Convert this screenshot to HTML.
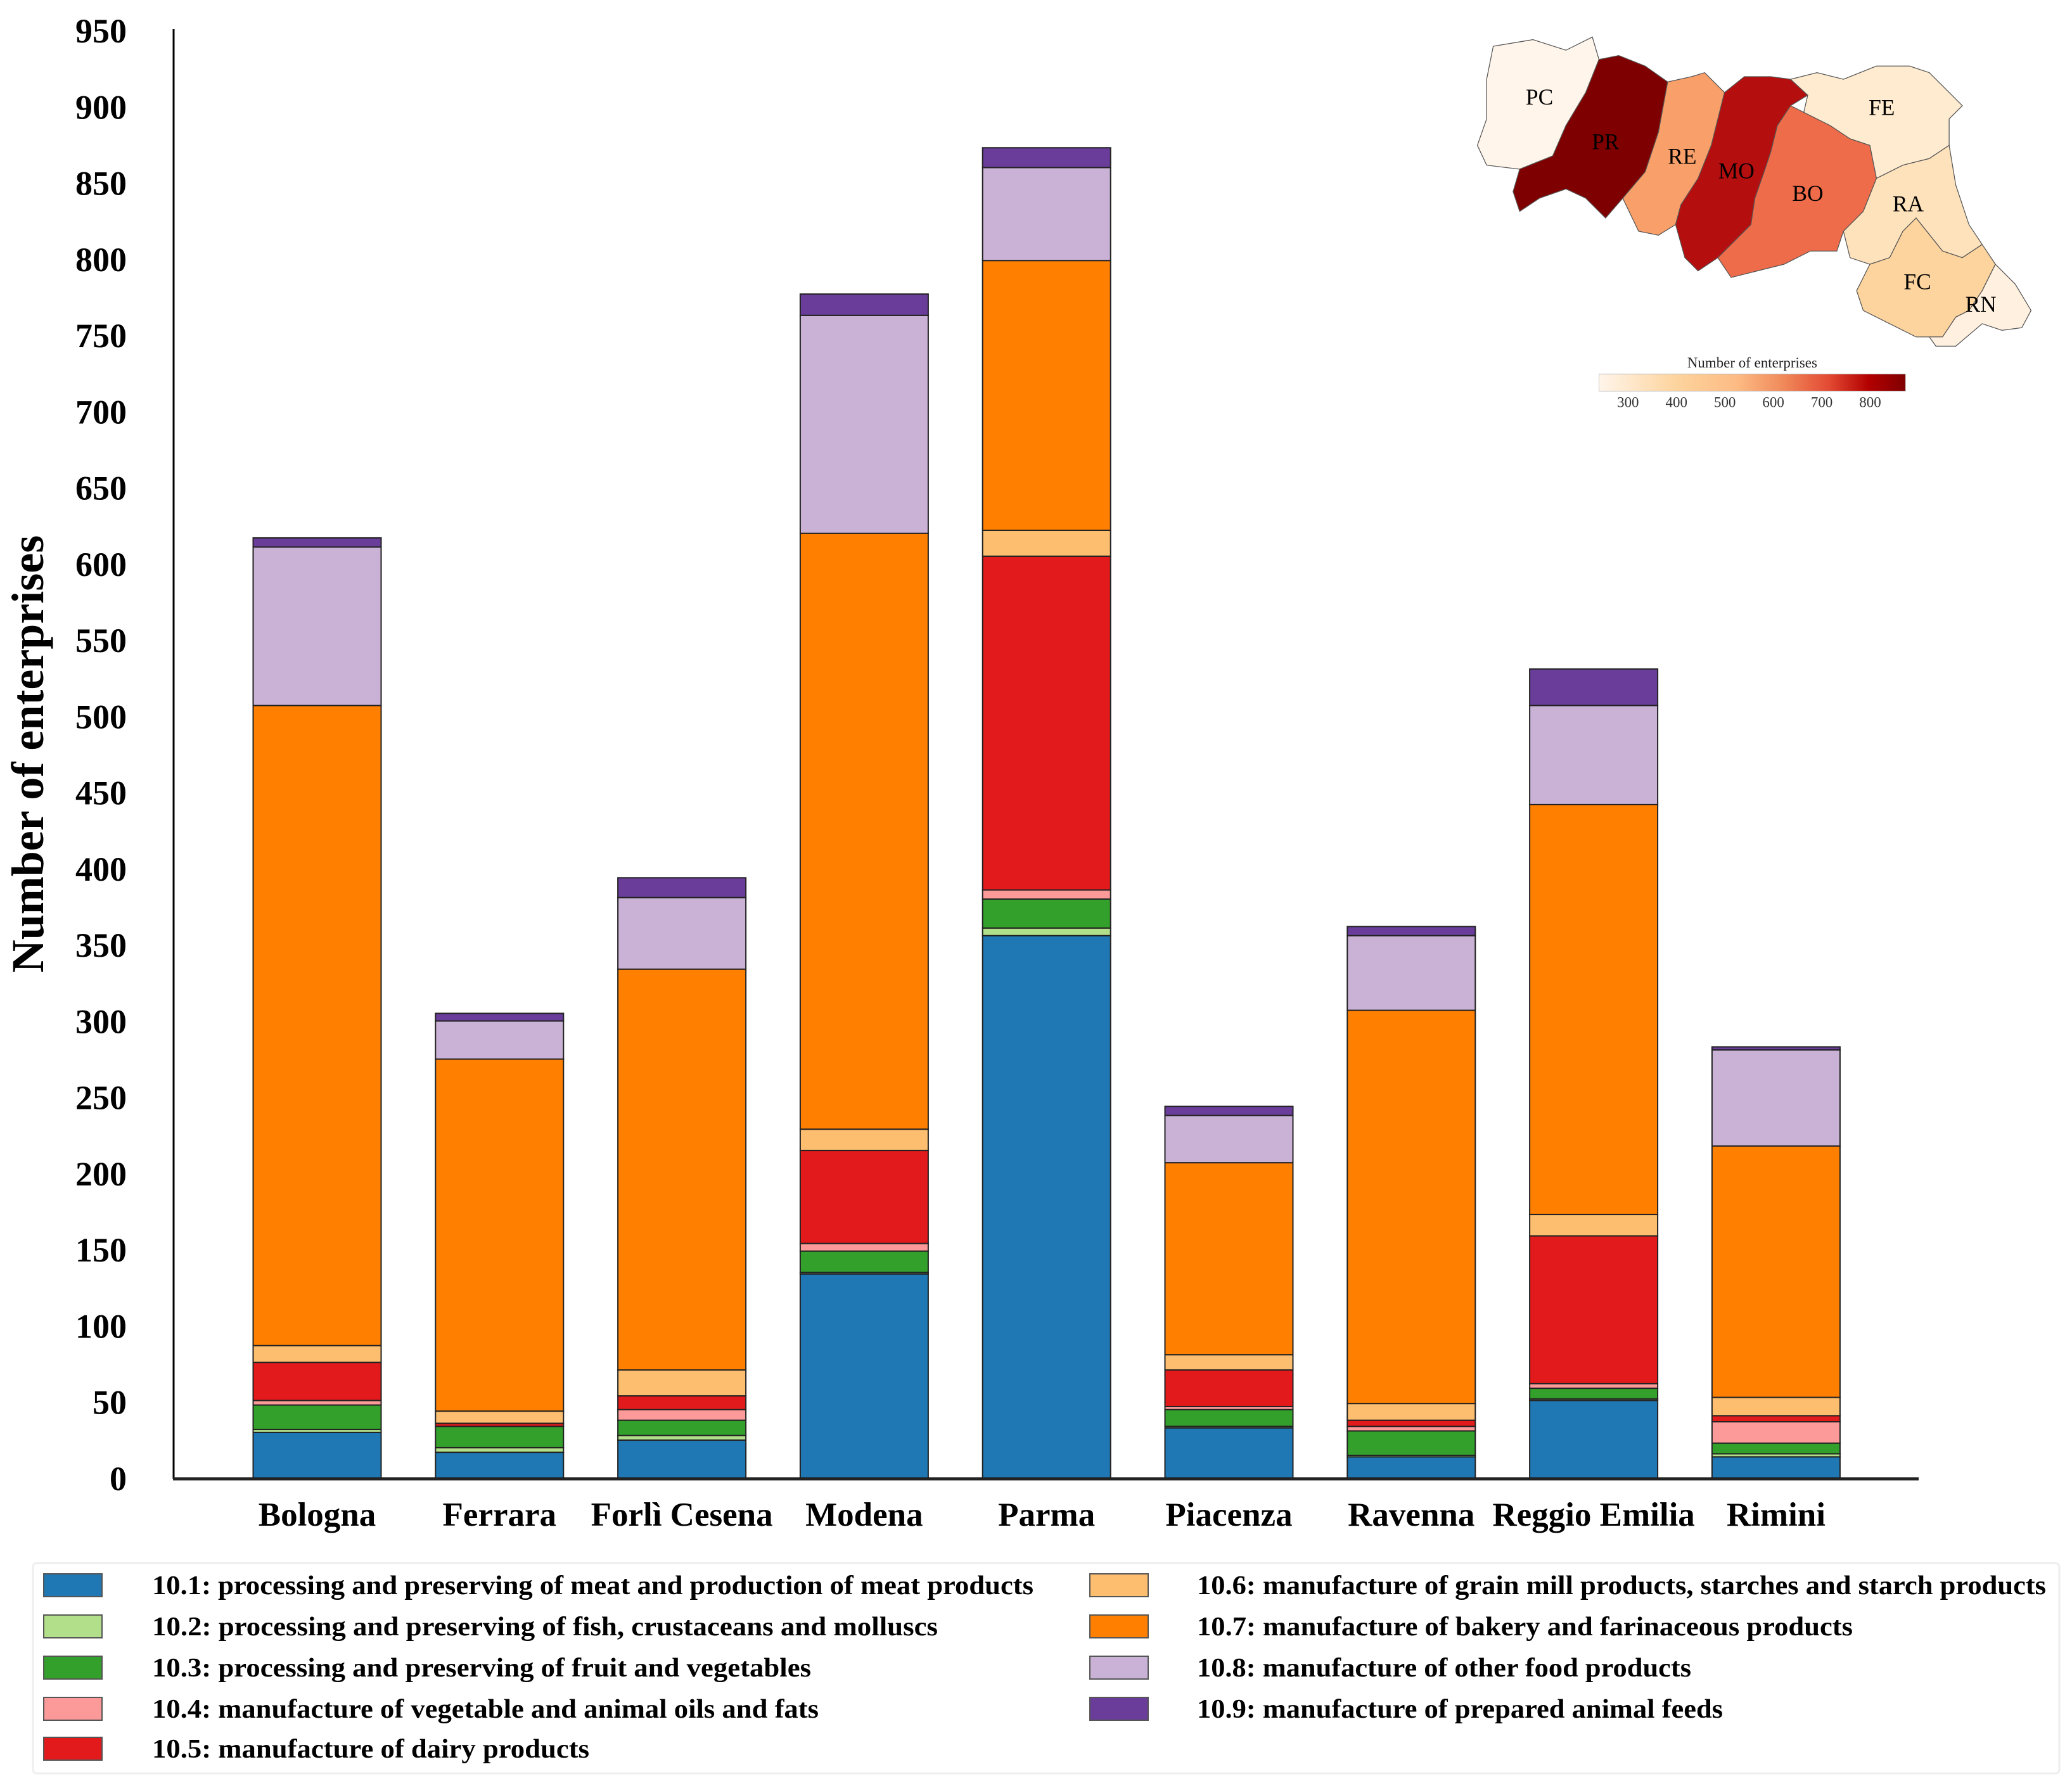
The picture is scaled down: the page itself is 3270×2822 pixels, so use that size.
<!DOCTYPE html>
<html><head><meta charset="utf-8"><style>
html,body{margin:0;padding:0;background:#fff}
svg{display:block}
text{font-family:"Liberation Serif",serif}
</style></head><body>
<svg id="chart" width="3270" height="2822" viewBox="0 0 3270 2822" xmlns="http://www.w3.org/2000/svg">
<g id="plot"></g>
<g id="map" transform="scale(2.0855)"></g>
<g id="legend"></g>
</svg>
<script>
const categories = ["Bologna","Ferrara","Forlì Cesena","Modena","Parma","Piacenza","Ravenna","Reggio Emilia","Rimini"];
const seriesNames = ["10.1: processing and preserving of meat and production of meat products","10.2: processing and preserving of fish, crustaceans and molluscs","10.3: processing and preserving of fruit and vegetables","10.4: manufacture of vegetable and animal oils and fats","10.5: manufacture of dairy products","10.6: manufacture of grain mill products, starches and starch products","10.7: manufacture of bakery and farinaceous products","10.8: manufacture of other food products","10.9: manufacture of prepared animal feeds"];
const s101 = [30,17,25,134,356,33,14,51,14];
const s102 = [2,3,3,1,5,1,1,1,2];
const s103 = [16,14,10,14,19,11,16,7,7];
const s104 = [3,0,7,5,6,2,3,3,14];
const s105 = [25,2,9,61,219,24,4,97,4];
const s106 = [11,8,17,14,17,10,11,14,12];
const s107 = [420,231,263,391,177,126,258,269,165];
const s108 = [104,25,47,143,61,31,49,65,63];
const s109 = [6,5,13,14,13,6,6,24,2];
const yTicks = [0,50,100,150,200,250,300,350,400,450,500,550,600,650,700,750,800,850,900,950];
const colorTicks = [300,400,500,600,700,800];

const series = [s101,s102,s103,s104,s105,s106,s107,s108,s109];
const colors = ["#1f78b4","#b2df8a","#33a02c","#fb9a99","#e31a1c","#fdbf6f","#ff7f00","#cab2d6","#6a3d9a"];
const NS = "http://www.w3.org/2000/svg";
function mk(tag, attrs, parent){const e=document.createElementNS(NS,tag);for(const k in attrs)e.setAttribute(k,attrs[k]);parent.appendChild(e);return e;}
const y = v => 2333 - v*(2333-48)/950;
const x = i => 500.5 + i*287.8;
const bw = 202;
const plot = document.getElementById('plot');

yTicks.forEach(t=>{
  const tx = mk('text',{x:200,y:y(t)+19,'text-anchor':'end','font-size':54,'font-weight':'bold',fill:'#000'},plot);
  tx.textContent = t;
  
  
});
const yl = mk('text',{x:0,y:0,transform:'translate(68,1190) rotate(-90)','text-anchor':'middle','font-size':72,'font-weight':'bold',fill:'#000'},plot);
yl.textContent = 'Number of enterprises';



categories.forEach((c,i)=>{
  let base = 0;
  series.forEach((s,j)=>{
    const v = s[i];
    const r = mk('rect',{x:x(i)-bw/2,y:y(base+v),width:bw,height:Math.max(0,y(base)-y(base+v)),fill:colors[j],stroke:'#222','stroke-width':2},plot);
    
    
    base += v;
  });
  const t = mk('text',{x:x(i),y:2408,'text-anchor':'middle','font-size':53,'font-weight':'bold',fill:'#000'},plot);
  t.textContent = c;
  
  
});
const ya = mk('line',{x1:274,y1:46,x2:274,y2:2334,stroke:'#000','stroke-width':3},plot);


const xa = mk('line',{x1:273,y1:2334,x2:3028,y2:2334,stroke:'#222','stroke-width':5},plot);



// legend
const lg = document.getElementById('legend');
const lbox = mk('rect',{x:52,y:2467,width:3198,height:332,fill:'#fff',stroke:'#eee','stroke-width':3,rx:6},lg);


const rowsY = [2502,2567,2632,2697,2760];
const lw = [1391,1240,1040,1052,690,1340,1035,780,830];
seriesNames.forEach((n,j)=>{
  const col = j<5?0:1, row = j<5?j:j-5;
  const sx = col?1720:69, tx = col?1889:240;
  const sw = mk('rect',{x:sx,y:rowsY[row]-18,width:92,height:36,fill:colors[j],stroke:'#555','stroke-width':2},lg);
  
  
  const t = mk('text',{x:tx,y:rowsY[row]+14,'font-size':42,'font-weight':'bold',fill:'#000',textLength:lw[j],lengthAdjust:'spacingAndGlyphs'},lg);
  t.textContent = n;
  
  
});

// map
const map = document.getElementById('map');
const regions = [
 ["PC","#fff5eb","1130,35 1160,30 1185,38 1205,28 1210,45 1200,70 1185,95 1175,118 1150,128 1125,125 1118,110 1125,90 1125,60",1165,73],
 ["PR","#7f0000","1210,45 1225,42 1245,50 1262,62 1255,100 1245,130 1228,150 1215,165 1200,150 1185,143 1165,150 1150,160 1145,145 1150,128 1175,118 1185,95 1200,70",1215,107],
 ["RE","#f9a06a","1262,62 1280,58 1290,55 1305,70 1295,110 1285,135 1272,155 1268,170 1255,178 1240,175 1228,150 1245,130 1255,100",1273,118],
 ["MO","#b50e0e","1305,70 1320,58 1340,58 1355,60 1368,72 1355,80 1345,95 1340,115 1335,130 1328,150 1325,170 1310,185 1300,195 1285,205 1275,195 1268,170 1272,155 1285,135 1295,110",1314,129],
 ["BO","#ef6c4a","1355,80 1365,85 1385,95 1400,105 1415,110 1420,135 1410,160 1395,175 1390,190 1370,190 1350,200 1330,205 1310,210 1300,195 1310,185 1325,170 1328,150 1335,130 1340,115 1345,95",1368,146],
 ["FE","#feebd0","1355,60 1375,55 1395,60 1420,50 1445,50 1460,55 1475,70 1485,80 1475,90 1475,110 1460,120 1440,125 1420,135 1415,110 1400,105 1385,95 1365,85 1368,72",1424,81],
 ["RA","#fde2bc","1420,135 1440,125 1460,120 1475,110 1480,140 1490,170 1500,185 1485,195 1470,190 1450,165 1440,175 1430,195 1415,200 1400,195 1395,175 1410,160",1444,154],
 ["FC","#fdd49e","1415,200 1430,195 1440,175 1450,165 1470,190 1485,195 1500,185 1510,200 1500,220 1490,235 1480,240 1470,255 1450,255 1430,245 1410,235 1405,220",1451,213],
 ["RN","#fff0e0","1490,235 1500,220 1510,200 1525,215 1537,235 1530,248 1515,250 1500,245 1480,262 1465,262 1460,255 1470,255 1480,240",1499,230]
];
regions.forEach(r=>{
  const p = mk('polygon',{points:r[2],fill:r[1],stroke:'#555','stroke-width':0.6},map);
  
  
});
regions.forEach(r=>{
  const t = mk('text',{x:r[3],y:r[4]+6,'text-anchor':'middle','font-size':17,fill:'#000'},map);
  t.textContent = r[0];
  
  
});
const defs = mk('defs',{},map);
const grad = mk('linearGradient',{id:'cb',x1:0,x2:1,y1:0,y2:0},defs);
[["0","#fff5eb"],["0.25","#fdd49e"],["0.45","#fdbb84"],["0.6","#f08a5b"],["0.75","#e34a33"],["0.88","#b30000"],["1","#7f0000"]].forEach(s=>mk('stop',{offset:s[0],'stop-color':s[1]},grad));
const cb = mk('rect',{x:1210,y:283,width:232,height:13,fill:'url(#cb)',stroke:'#bbb','stroke-width':0.4},map);


const cbt = mk('text',{x:1326,y:278,'text-anchor':'middle','font-size':11,fill:'#222'},map);
cbt.textContent = 'Number of enterprises';


const cx = v => 1210 + (v-240)/(873-240)*232;
colorTicks.forEach(v=>{
  const t = mk('text',{x:cx(v),y:308,'text-anchor':'middle','font-size':11,fill:'#333'},map);
  t.textContent = v;
  
  
});
</script>
</body></html>
